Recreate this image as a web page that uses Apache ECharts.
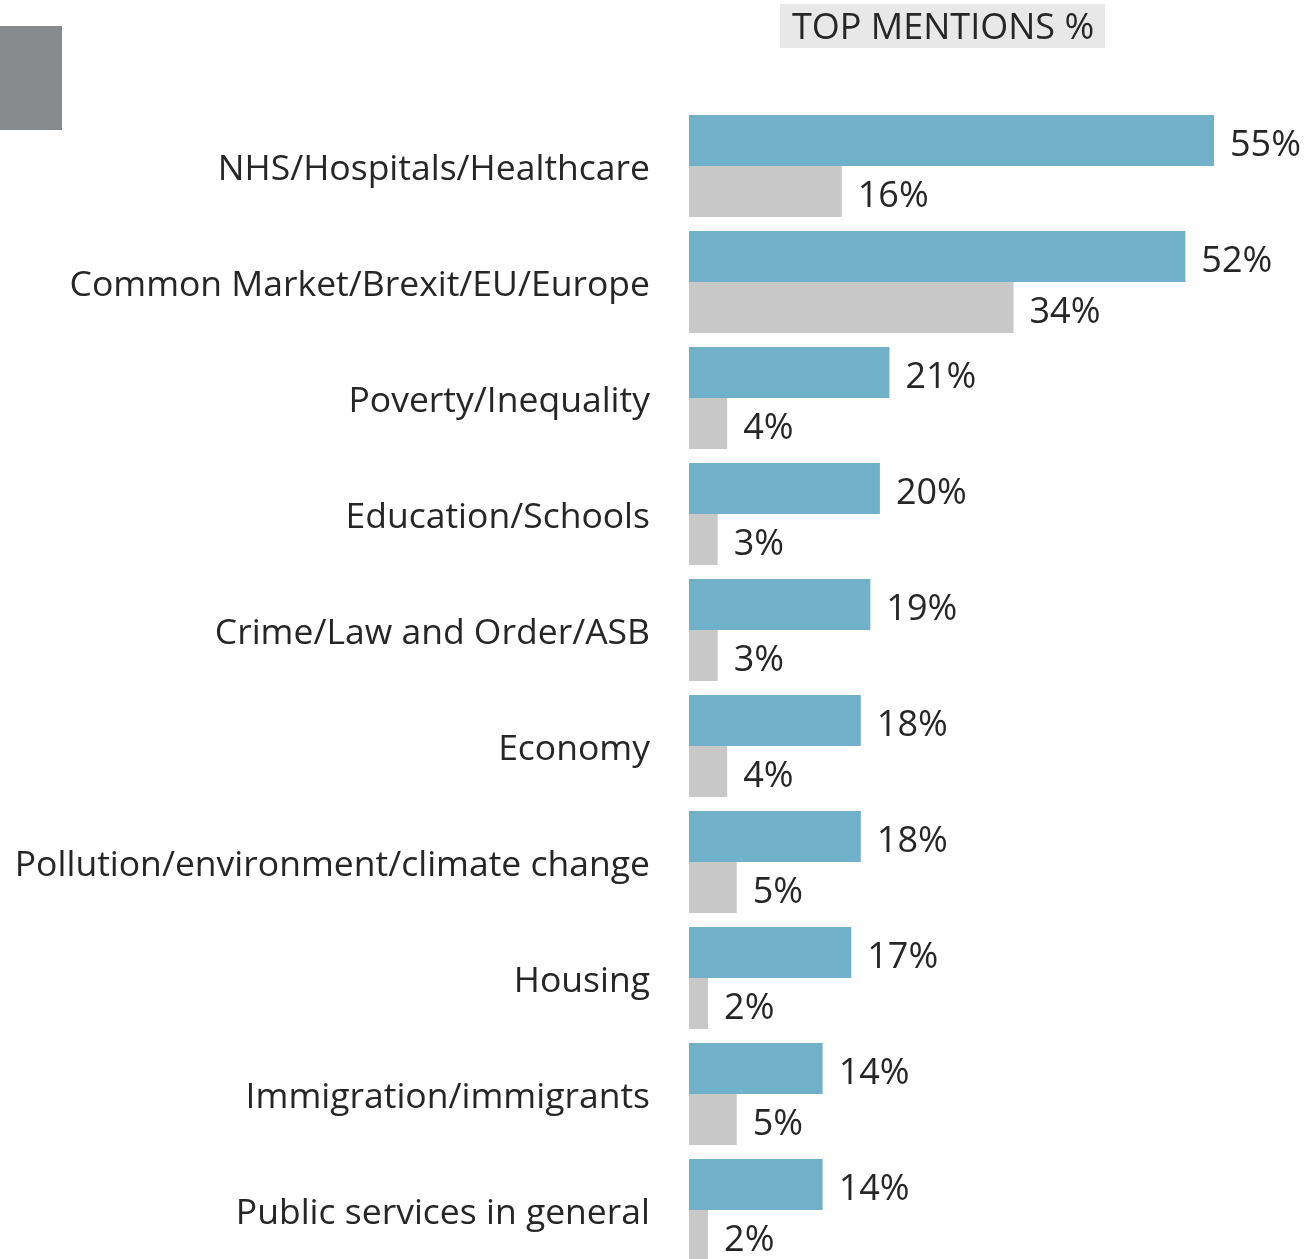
<!DOCTYPE html>
<html lang="en">
<head>
    <meta charset="UTF-8">
    <title>Top mentions</title>
    <style>
        html, body { margin: 0; padding: 0; background: #fff; overflow: hidden; }
        #chart { width: 1306px; height: 1272px; }
    </style>
</head>
<body>
    <div id="chart"></div>
    <script src="https://cdn.jsdelivr.net/npm/echarts@6/dist/echarts.min.js"></script>
    <script>
        var categories = [
            'NHS/Hospitals/Healthcare',
            'Common Market/Brexit/EU/Europe',
            'Poverty/Inequality',
            'Education/Schools',
            'Crime/Law and Order/ASB',
            'Economy',
            'Pollution/environment/climate change',
            'Housing',
            'Immigration/immigrants',
            'Public services in general'
        ];
        var valuesBlue = [55, 52, 21, 20, 19, 18, 18, 17, 14, 14];
        var valuesGrey = [16, 34, 4, 3, 3, 4, 5, 2, 5, 2];
        var titleText = 'TOP MENTIONS %';

        var font = '"Open Sans", "Noto Sans", sans-serif';
        var chart = echarts.init(document.getElementById('chart'));

        var valueLabel = {
            show: true, position: 'right', distance: 16, formatter: '{c}%',
            offset: [0, 5],
            color: '#262626', fontSize: 36, fontFamily: font
        };

        var option = {
            animation: false,
            graphic: [
                { type: 'rect', left: 0, top: 26, shape: { width: 62, height: 104 }, style: { fill: '#868a8d' } },
                { type: 'rect', left: 780, top: 4, shape: { width: 325, height: 44 }, style: { fill: '#e8e8e8' } },
                {
                    type: 'text', left: 792, top: 11,
                    style: { text: titleText, fill: '#262626', fontSize: 36, fontFamily: font }
                }
            ],
            grid: { left: 689, top: 108, width: 572.7, height: 1160 },
            xAxis: {
                type: 'value', min: 0, max: 60,
                show: false
            },
            yAxis: {
                type: 'category',
                data: categories,
                inverse: true,
                axisLine: { show: false },
                axisTick: { show: false },
                axisLabel: {
                    margin: 39,
                    formatter: function (v) { return '{a|' + v + '}'; },
                    rich: {
                        a: {
                            color: '#262626', fontSize: 35.5, fontFamily: font,
                            padding: [8, 0, 0, 0]
                        }
                    }
                }
            },
            series: [
                {
                    type: 'bar', data: valuesBlue, barWidth: 51, barGap: '0%',
                    itemStyle: { color: '#70b0c8' },
                    label: valueLabel
                },
                {
                    type: 'bar', data: valuesGrey, barWidth: 51, barGap: '0%',
                    itemStyle: { color: '#c8c8c8' },
                    label: valueLabel
                }
            ]
        };
        chart.setOption(option);
    </script>
</body>
</html>
